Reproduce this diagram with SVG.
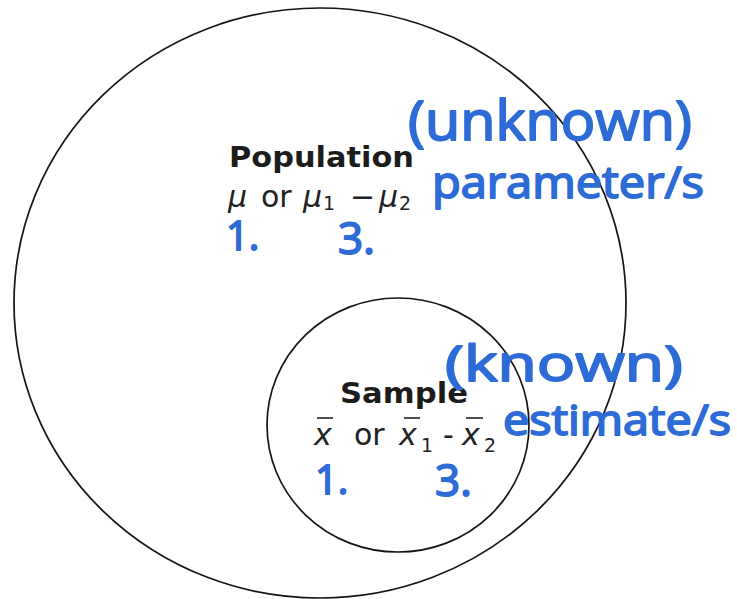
<svg xmlns="http://www.w3.org/2000/svg" width="737" height="599" viewBox="0 0 737 599">
<style>
.ring{fill:none;stroke:#151515;stroke-width:1.7}
.title{font-family:"DejaVu Sans",Verdana,sans-serif;font-weight:bold;font-size:28px;fill:#1c1c1c}
.math{font-family:"DejaVu Sans",Verdana,sans-serif;font-size:30px;fill:#222}
.it{font-style:italic}
.sub{font-size:19px}
.hand{font-family:"Open Sans","Lato",sans-serif;font-weight:400;fill:#2d6bd6;stroke:#2d6bd6;stroke-width:1.8;stroke-linejoin:round;stroke-linecap:round}
</style>
<rect width="737" height="599" fill="#fff"/>
<g id="population">
  <ellipse class="ring" cx="320" cy="303" rx="306" ry="295"/>
  <text class="title" x="229" y="167" textLength="185" lengthAdjust="spacingAndGlyphs">Population</text>
  <text class="math" y="207"><tspan class="it" x="228">μ</tspan><tspan x="261">or</tspan><tspan class="it" x="303">μ</tspan><tspan class="sub" x="323" y="210">1</tspan><tspan x="350" y="207">−</tspan><tspan class="it" x="379">μ</tspan><tspan class="sub" x="399" y="210">2</tspan></text>
</g>
<g id="sample">
  <ellipse class="ring" cx="398" cy="425" rx="131" ry="127"/>
  <text class="title" x="340" y="403" textLength="128" lengthAdjust="spacingAndGlyphs">Sample</text>
  <text class="math" y="445"><tspan class="it" x="314">x</tspan><tspan x="354">or</tspan><tspan class="it" x="399">x</tspan><tspan class="sub" x="421" y="452">1</tspan><tspan x="443" y="445">-</tspan><tspan class="it" x="462">x</tspan><tspan class="sub" x="484" y="452">2</tspan></text>
  <g stroke="#222" stroke-width="1.6">
    <line x1="317" y1="418" x2="333" y2="418"/>
    <line x1="404" y1="418" x2="420" y2="418"/>
    <line x1="466" y1="418" x2="483" y2="418"/>
  </g>
</g>
<g id="annotations">
  <text class="hand" x="226" y="250" font-size="40">1.</text>
  <text class="hand" x="338" y="254" font-size="44">3.</text>
  <text class="hand" x="315" y="494" font-size="40">1.</text>
  <text class="hand" x="435" y="496" font-size="44">3.</text>
  <text class="hand" x="408" y="140" font-size="54" textLength="284" lengthAdjust="spacingAndGlyphs">(unknown)</text>
  <text class="hand" x="432" y="198" font-size="44" textLength="272" lengthAdjust="spacingAndGlyphs">parameter/s</text>
  <text class="hand" x="445" y="381" font-size="50" textLength="238" lengthAdjust="spacingAndGlyphs">(known)</text>
  <text class="hand" x="503" y="435" font-size="42" textLength="228" lengthAdjust="spacingAndGlyphs">estimate/s</text>
</g>
<g id="connectors"/>
</svg>
